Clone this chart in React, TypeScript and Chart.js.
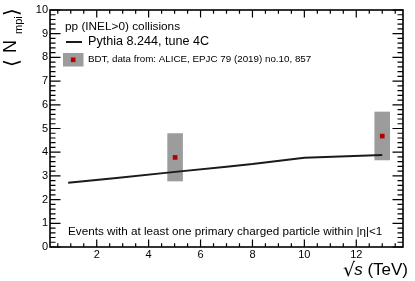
import React, { useEffect, useRef } from 'react';
import { Chart, registerables } from 'chart.js';

Chart.register(...registerables);

// ---- data ----
const pythiaEnergies = [0.9, 2.76, 5.02, 7, 8, 10, 13];
const pythiaNmpi = [2.71, 2.91, 3.17, 3.39, 3.5, 3.77, 3.88];
const bdtEnergies = [5.02, 13];
const bdtNmpi = [3.78, 4.68];
const bdtLow = [2.77, 3.66];
const bdtHigh = [4.8, 5.71];
const bdtHalfWidth = [0.3, 0.3];
const xTickValues = [2, 4, 6, 8, 10, 12];
const yTickValues = [0, 1, 2, 3, 4, 5, 6, 7, 8, 9, 10];
const xRange = [0.2, 13.8];
const yRange = [0, 10];
const xMinorStep = 0.5;
const yMinorStep = 0.2;
const legendHeader = 'pp (INEL>0) collisions';
const legendPythia = 'Pythia 8.244, tune 4C';
const legendBdt = 'BDT, data from: ALICE, EPJC 79 (2019) no.10, 857';
const annotation = 'Events with at least one primary charged particle within |η|<1';

const SANS = '"Liberation Sans", Arial, Helvetica, sans-serif';
const BOX_GRAY = '#9c9c9c';
const MARK_RED = '#b40000';
const LINE_COLOR = '#1a1a1a';

const rootStyle = {
  id: 'rootStyle',
  beforeDatasetsDraw(chart: any) {
    const { ctx, scales } = chart;
    const x = scales.x, y = scales.y;
    ctx.save();
    ctx.fillStyle = BOX_GRAY;
    bdtEnergies.forEach((e, i) => {
      const l = x.getPixelForValue(e - bdtHalfWidth[i]);
      const r = x.getPixelForValue(e + bdtHalfWidth[i]);
      const t = y.getPixelForValue(bdtHigh[i]);
      const b = y.getPixelForValue(bdtLow[i]);
      ctx.fillRect(l, t, r - l, b - t);
    });
    ctx.restore();
  },
  afterDraw(chart: any) {
    const { ctx, chartArea: a, scales } = chart;
    const x = scales.x, y = scales.y;
    ctx.save();
    // frame
    ctx.strokeStyle = '#000';
    ctx.lineWidth = 1.6;
    ctx.strokeRect(a.left, a.top, a.right - a.left, a.bottom - a.top);
    // ticks
    ctx.lineWidth = 1.2;
    ctx.beginPath();
    const ny = Math.round((yRange[1] - yRange[0]) / yMinorStep);
    for (let i = 0; i <= ny; i++) {
      const v = yRange[0] + i * yMinorStep;
      const major = yTickValues.some((t) => Math.abs(t - v) < 1e-6);
      const len = major ? 10.5 : 5.5;
      const py = y.getPixelForValue(v);
      ctx.moveTo(a.left, py);
      ctx.lineTo(a.left + len, py);
      ctx.moveTo(a.right, py);
      ctx.lineTo(a.right - len, py);
    }
    const x0 = Math.ceil(xRange[0] / xMinorStep) * xMinorStep;
    const nx = Math.floor((xRange[1] - x0) / xMinorStep + 1e-9);
    for (let i = 0; i <= nx; i++) {
      const v = x0 + i * xMinorStep;
      const major = xTickValues.some((t) => Math.abs(t - v) < 1e-6);
      const len = major ? 7.5 : 3.8;
      const px = x.getPixelForValue(v);
      ctx.moveTo(px, a.bottom);
      ctx.lineTo(px, a.bottom - len);
      ctx.moveTo(px, a.top);
      ctx.lineTo(px, a.top + len);
    }
    ctx.stroke();

    // legend
    ctx.fillStyle = '#000';
    ctx.textBaseline = 'middle';
    ctx.textAlign = 'left';
    const lx = a.left + 15;
    ctx.font = `11.8px ${SANS}`;
    ctx.fillText(legendHeader, lx, a.top + 17);
    ctx.strokeStyle = LINE_COLOR;
    ctx.lineWidth = 2;
    ctx.beginPath();
    ctx.moveTo(lx + 1, a.top + 32);
    ctx.lineTo(lx + 17, a.top + 32);
    ctx.stroke();
    ctx.font = `12.6px ${SANS}`;
    ctx.fillText(legendPythia, lx + 23, a.top + 32);
    ctx.fillStyle = BOX_GRAY;
    ctx.fillRect(lx - 2, a.top + 43, 20.5, 13.5);
    ctx.fillStyle = MARK_RED;
    ctx.fillRect(lx + 5.9, a.top + 47.5, 4.6, 4.6);
    ctx.fillStyle = '#000';
    ctx.font = `9.8px ${SANS}`;
    ctx.fillText(legendBdt, lx + 23, a.top + 49.5);

    // annotation
    ctx.font = `11.7px ${SANS}`;
    ctx.fillText(annotation, a.left + 18, a.bottom - 15);

    // x title: √s (TeV)
    ctx.textBaseline = 'alphabetic';
    ctx.font = `17px ${SANS}`;
    const rest = ' (TeV)';
    let xr = 408;
    const wRest = ctx.measureText(rest).width;
    ctx.fillText(rest, xr - wRest, 275);
    xr -= wRest;
    ctx.font = `italic 17px ${SANS}`;
    const wS = ctx.measureText('s').width;
    ctx.fillText('s', xr - wS, 275);
    xr -= wS;
    ctx.font = `19px "DejaVu Sans", ${SANS}`;
    const wR = ctx.measureText('√').width;
    ctx.fillText('√', xr - wR + 1, 276);

    // y title: ⟨ N_mpi ⟩
    ctx.translate(16, 67);
    ctx.rotate(-Math.PI / 2);
    ctx.font = `20px "DejaVu Sans", ${SANS}`;
    ctx.fillText('⟨', 0, 2);
    ctx.font = `18px ${SANS}`;
    ctx.fillText('N', 14, 0);
    ctx.font = `11px ${SANS}`;
    ctx.fillText('mpi', 33, 6);
    ctx.font = `20px "DejaVu Sans", ${SANS}`;
    ctx.fillText('⟩', 51, 2);
    ctx.restore();
  },
};

export default function App() {
  const ref = useRef<HTMLCanvasElement | null>(null);
  useEffect(() => {
    if (!ref.current) return;
    const chart = new Chart(ref.current, {
      type: 'scatter',
      data: {
        datasets: [
          {
            type: 'line',
            label: legendPythia,
            data: pythiaEnergies.map((e, i) => ({ x: e, y: pythiaNmpi[i] })),
            borderColor: LINE_COLOR,
            borderWidth: 2,
            pointRadius: 0,
            fill: false,
            tension: 0,
          } as any,
          {
            label: legendBdt,
            data: bdtEnergies.map((e, i) => ({ x: e, y: bdtNmpi[i] })),
            pointStyle: 'rect',
            pointRadius: 3.3,
            backgroundColor: MARK_RED,
            borderWidth: 0,
          },
        ],
      },
      options: {
        responsive: false,
        animation: false,
        devicePixelRatio: 1,
        layout: { padding: { top: 10, right: 12, left: 0, bottom: 0 } },
        plugins: { legend: { display: false }, tooltip: { enabled: false } },
        scales: {
          x: {
            type: 'linear',
            min: xRange[0],
            max: xRange[1],
            grid: { display: false, drawTicks: false },
            border: { display: false },
            ticks: { color: '#000', font: { size: 11, family: SANS }, padding: 1 },
            afterBuildTicks: (s: any) => {
              s.ticks = xTickValues.map((v) => ({ value: v }));
            },
            afterFit: (s: any) => {
              s.height = 34;
            },
          },
          y: {
            type: 'linear',
            min: yRange[0],
            max: yRange[1],
            grid: { display: false, drawTicks: false },
            border: { display: false },
            ticks: { color: '#000', font: { size: 11, family: SANS }, padding: 2 },
            afterBuildTicks: (s: any) => {
              s.ticks = yTickValues.map((v) => ({ value: v }));
            },
            afterFit: (s: any) => {
              s.width = 50;
            },
          },
        },
      },
      plugins: [rootStyle],
    });
    return () => chart.destroy();
  }, []);
  return (
    <div style={{ position: 'absolute', left: 0, top: 0, width: 415, height: 281, background: '#fff' }}>
      <canvas ref={ref} width={415} height={281} />
    </div>
  );
}
